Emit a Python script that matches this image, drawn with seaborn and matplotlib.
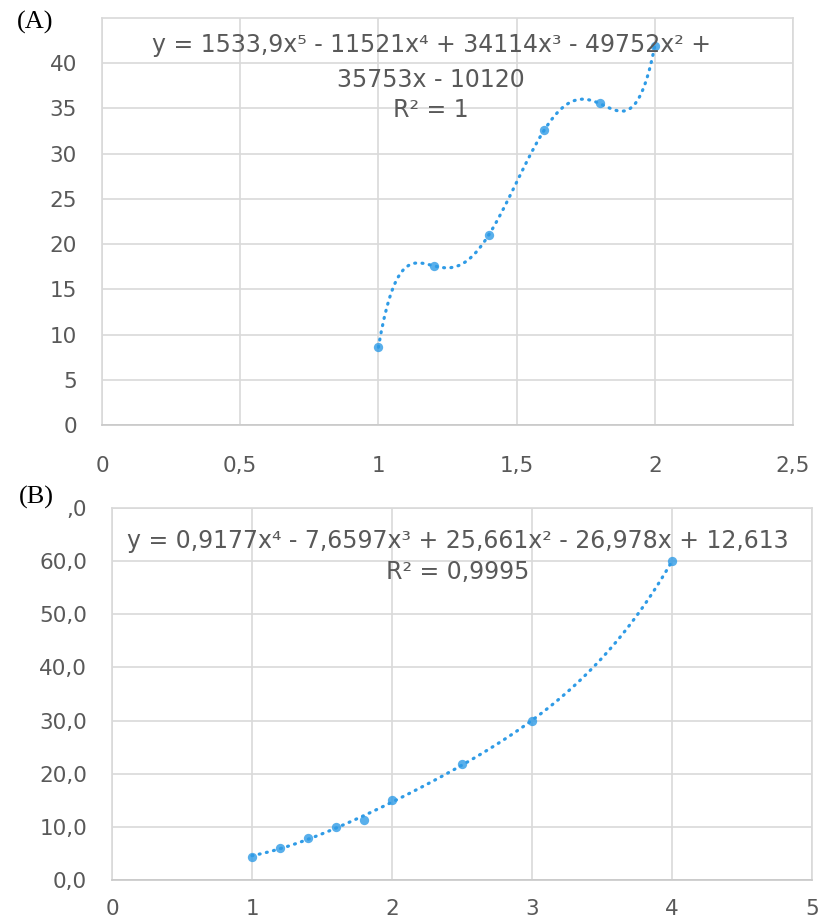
import numpy as np
import pandas as pd
import matplotlib
matplotlib.use("Agg")
import matplotlib.pyplot as plt
import seaborn as sns

# ---- data ----
xa = [1.0, 1.2, 1.4, 1.6, 1.8, 2.0]
ya = [8.6, 17.6, 21.05, 32.6, 35.55, 41.9]
xb = [1.0, 1.2, 1.4, 1.6, 1.8, 2.0, 2.5, 3.0, 4.0]
yb = [4.4, 6.1, 7.9, 9.95, 11.2, 15.0, 21.9, 29.9, 60.0]

xticks_a = [0, 0.5, 1, 1.5, 2, 2.5]
xlabels_a = ["0", "0,5", "1", "1,5", "2", "2,5"]
yticks_a = [0, 5, 10, 15, 20, 25, 30, 35, 40]
ylabels_a = ["0", "5", "10", "15", "20", "25", "30", "35", "40"]
xticks_b = [0, 1, 2, 3, 4, 5]
xlabels_b = ["0", "1", "2", "3", "4", "5"]
yticks_b = [0, 10, 20, 30, 40, 50, 60, 70]
# the top label is partly hidden behind the "(B)" tag in the reference: only ",0" shows
ylabels_b = ["0,0", "10,0", "20,0", "30,0", "40,0", "50,0", "60,0", ",0"]

eq_a = ["y = 1533,9x⁵ - 11521x⁴ + 34114x³ - 49752x² +",
        "35753x - 10120", "R² = 1"]
eq_b = ["y = 0,9177x⁴ - 7,6597x³ + 25,661x² - 26,978x + 12,613",
        "R² = 0,9995"]

dfa = pd.DataFrame({"x": xa, "y": ya})
dfb = pd.DataFrame({"x": xb, "y": yb})

sns.set_style("white")
plt.rcParams["font.family"] = ["DejaVu Sans"]

W, H = 823, 922
fig = plt.figure(figsize=(W / 100, H / 100), dpi=100)

blue = "#2F9BE6"
grid = "#D9D9D9"
txt = "#595959"


def frac(l, t, r, b):
    return [l / W, 1 - b / H, (r - l) / W, (b - t) / H]


axA = fig.add_axes(frac(102, 18, 793, 425))
axB = fig.add_axes(frac(112, 508, 812, 880))

for ax, df, order, xt, xl, yt, yl, xlim, ylim, xpad, ypad in [
    (axA, dfa, 5, xticks_a, xlabels_a, yticks_a, ylabels_a, (0, 2.5), (0, 45), 22, 18),
    (axB, dfb, 4, xticks_b, xlabels_b, yticks_b, ylabels_b, (0, 5), (0, 70), 14, 18),
]:
    sns.regplot(data=df, x="x", y="y", order=order, ci=None, truncate=True,
                ax=ax, color=blue,
                scatter_kws=dict(s=45, linewidths=0, zorder=4),
                line_kws=dict(ls=(0, (0.3, 2.0)), lw=2.3, dash_capstyle="round",
                              zorder=3))
    ax.set_xlim(*xlim)
    ax.set_ylim(*ylim)
    ax.set_xticks(xt)
    ax.set_xticklabels(xl)
    ax.set_yticks(yt)
    ax.set_yticklabels(yl)
    ax.set_xlabel("")
    ax.set_ylabel("")
    ax.grid(True, color=grid, lw=1.2)
    ax.set_axisbelow(True)
    for s in ax.spines.values():
        s.set_color(grid)
        s.set_linewidth(1.2)
    ax.spines["bottom"].set_color("#C8C8C8")
    ax.tick_params(axis="both", length=0, labelsize=15.5, colors=txt)
    ax.tick_params(axis="x", pad=xpad)
    ax.tick_params(axis="y", pad=ypad)

# equations
ys_a = [45, 80, 110]
for s, yy in zip(eq_a, ys_a):
    fig.text(431 / W, 1 - yy / H, s, ha="center", va="center", fontsize=17, color=txt)
ys_b = [541, 572]
for s, yy in zip(eq_b, ys_b):
    fig.text(458 / W, 1 - yy / H, s, ha="center", va="center", fontsize=17, color=txt)

# panel labels
fig.text(17 / W, 1 - 22 / H, "(A)", ha="left", va="center", fontsize=19,
         family="Liberation Serif", color="black")
fig.text(19 / W, 1 - 497 / H, "(B)", ha="left", va="center", fontsize=19,
         family="Liberation Serif", color="black")

fig.savefig("out.png", dpi=100)
